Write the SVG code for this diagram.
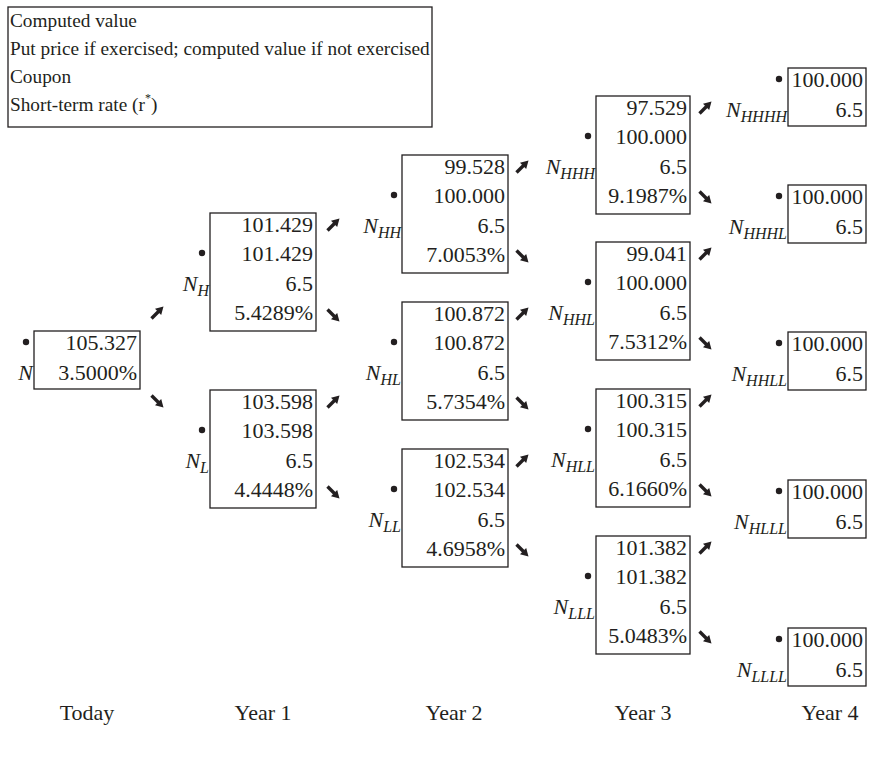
<svg xmlns="http://www.w3.org/2000/svg" xmlns:xlink="http://www.w3.org/1999/xlink" width="871" height="758" viewBox="0 0 871 758">
<style>
.bx{fill:none;stroke:#231f20;stroke-width:1.3}
text{font-family:"Liberation Serif","Times New Roman",serif;fill:#231f20}
.v{font-size:22px;text-anchor:end}
.lg{font-size:19.3px}
.lb{font-size:22px;font-style:italic;text-anchor:end}
.sub{font-size:16px}
.yr{font-size:22px;text-anchor:middle}
.dt{fill:#231f20}
.sh{stroke:#231f20;stroke-width:3.4;fill:none}
.hd{fill:#231f20}
</style>
<defs>
<g id="ne"><path class="sh" d="M-5.5,5.5 L1.5,-1.5"/><polygon class="hd" points="6.5,-6.5 4.2,2 -2,-4.2"/></g>
<g id="se"><use xlink:href="#ne" transform="scale(1,-1)"/></g>
</defs>
<rect width="871" height="758" fill="#fff"/>

<g id="legend">
<rect class="bx" x="8" y="7" width="424" height="120"/>
<text class="lg" x="10" y="27">Computed value</text>
<text class="lg" x="10" y="55">Put price if exercised; computed value if not exercised</text>
<text class="lg" x="10" y="83">Coupon</text>
<text class="lg" x="10" y="111">Short-term rate (r<tspan font-size="12" dy="-9">*</tspan><tspan dy="9">)</tspan></text>
</g>

<g id="node-N">
<rect class="bx" x="34" y="331" width="106" height="58"/>
<circle class="dt" cx="26" cy="342" r="3.2"/>
<text class="v" x="137" y="350">105.327</text>
<text class="v" x="137" y="380">3.5000%</text>
<text class="lb" x="33" y="380">N</text>
</g>

<g id="node-NH">
<rect class="bx" x="210" y="213" width="106" height="118"/>
<circle class="dt" cx="202" cy="253" r="3.2"/>
<text class="v" x="313" y="232">101.429</text>
<text class="v" x="313" y="261">101.429</text>
<text class="v" x="313" y="291">6.5</text>
<text class="v" x="313" y="320">5.4289%</text>
<text class="lb" x="209" y="291">N<tspan class="sub" dy="5">H</tspan></text>
</g>

<g id="node-NL">
<rect class="bx" x="210" y="390" width="106" height="118"/>
<circle class="dt" cx="202" cy="430" r="3.2"/>
<text class="v" x="313" y="409">103.598</text>
<text class="v" x="313" y="438">103.598</text>
<text class="v" x="313" y="468">6.5</text>
<text class="v" x="313" y="497">4.4448%</text>
<text class="lb" x="209" y="468">N<tspan class="sub" dy="5">L</tspan></text>
</g>

<g id="node-NHH">
<rect class="bx" x="402" y="155" width="106" height="118"/>
<circle class="dt" cx="394" cy="195" r="3.2"/>
<text class="v" x="505" y="174">99.528</text>
<text class="v" x="505" y="203">100.000</text>
<text class="v" x="505" y="233">6.5</text>
<text class="v" x="505" y="262">7.0053%</text>
<text class="lb" x="401" y="233">N<tspan class="sub" dy="5">HH</tspan></text>
</g>

<g id="node-NHL">
<rect class="bx" x="402" y="302" width="106" height="118"/>
<circle class="dt" cx="394" cy="342" r="3.2"/>
<text class="v" x="505" y="321">100.872</text>
<text class="v" x="505" y="350">100.872</text>
<text class="v" x="505" y="380">6.5</text>
<text class="v" x="505" y="409">5.7354%</text>
<text class="lb" x="401" y="380">N<tspan class="sub" dy="5">HL</tspan></text>
</g>

<g id="node-NLL">
<rect class="bx" x="402" y="449" width="106" height="118"/>
<circle class="dt" cx="394" cy="489" r="3.2"/>
<text class="v" x="505" y="468">102.534</text>
<text class="v" x="505" y="497">102.534</text>
<text class="v" x="505" y="527">6.5</text>
<text class="v" x="505" y="556">4.6958%</text>
<text class="lb" x="401" y="527">N<tspan class="sub" dy="5">LL</tspan></text>
</g>

<g id="node-NHHH">
<rect class="bx" x="596" y="96" width="94" height="118"/>
<circle class="dt" cx="588" cy="136" r="3.2"/>
<text class="v" x="687" y="115">97.529</text>
<text class="v" x="687" y="144">100.000</text>
<text class="v" x="687" y="174">6.5</text>
<text class="v" x="687" y="203">9.1987%</text>
<text class="lb" x="595" y="174">N<tspan class="sub" dy="5">HHH</tspan></text>
</g>

<g id="node-NHHL">
<rect class="bx" x="596" y="242" width="94" height="118"/>
<circle class="dt" cx="588" cy="282" r="3.2"/>
<text class="v" x="687" y="261">99.041</text>
<text class="v" x="687" y="290">100.000</text>
<text class="v" x="687" y="320">6.5</text>
<text class="v" x="687" y="349">7.5312%</text>
<text class="lb" x="595" y="320">N<tspan class="sub" dy="5">HHL</tspan></text>
</g>

<g id="node-NHLL">
<rect class="bx" x="596" y="389" width="94" height="118"/>
<circle class="dt" cx="588" cy="429" r="3.2"/>
<text class="v" x="687" y="408">100.315</text>
<text class="v" x="687" y="437">100.315</text>
<text class="v" x="687" y="467">6.5</text>
<text class="v" x="687" y="496">6.1660%</text>
<text class="lb" x="595" y="467">N<tspan class="sub" dy="5">HLL</tspan></text>
</g>

<g id="node-NLLL">
<rect class="bx" x="596" y="536" width="94" height="118"/>
<circle class="dt" cx="588" cy="576" r="3.2"/>
<text class="v" x="687" y="555">101.382</text>
<text class="v" x="687" y="584">101.382</text>
<text class="v" x="687" y="614">6.5</text>
<text class="v" x="687" y="643">5.0483%</text>
<text class="lb" x="595" y="614">N<tspan class="sub" dy="5">LLL</tspan></text>
</g>

<g id="node-NHHHH">
<rect class="bx" x="788" y="68" width="78" height="58"/>
<circle class="dt" cx="779" cy="79" r="3.2"/>
<text class="v" x="863" y="87">100.000</text>
<text class="v" x="863" y="117">6.5</text>
<text class="lb" x="787" y="117">N<tspan class="sub" dy="5">HHHH</tspan></text>
</g>

<g id="node-NHHHL">
<rect class="bx" x="788" y="185" width="78" height="58"/>
<circle class="dt" cx="779" cy="196" r="3.2"/>
<text class="v" x="863" y="204">100.000</text>
<text class="v" x="863" y="234">6.5</text>
<text class="lb" x="787" y="234">N<tspan class="sub" dy="5">HHHL</tspan></text>
</g>

<g id="node-NHHLL">
<rect class="bx" x="788" y="332" width="78" height="58"/>
<circle class="dt" cx="779" cy="343" r="3.2"/>
<text class="v" x="863" y="351">100.000</text>
<text class="v" x="863" y="381">6.5</text>
<text class="lb" x="787" y="381">N<tspan class="sub" dy="5">HHLL</tspan></text>
</g>

<g id="node-NHLLL">
<rect class="bx" x="788" y="480" width="78" height="58"/>
<circle class="dt" cx="779" cy="491" r="3.2"/>
<text class="v" x="863" y="499">100.000</text>
<text class="v" x="863" y="529">6.5</text>
<text class="lb" x="787" y="529">N<tspan class="sub" dy="5">HLLL</tspan></text>
</g>

<g id="node-NLLLL">
<rect class="bx" x="788" y="628" width="78" height="58"/>
<circle class="dt" cx="779" cy="639" r="3.2"/>
<text class="v" x="863" y="647">100.000</text>
<text class="v" x="863" y="677">6.5</text>
<text class="lb" x="787" y="677">N<tspan class="sub" dy="5">LLLL</tspan></text>
</g>

<g id="connectors">
<use xlink:href="#ne" x="157" y="313"/>
<use xlink:href="#se" x="157" y="401"/>
<use xlink:href="#ne" x="333" y="225"/>
<use xlink:href="#se" x="333" y="315"/>
<use xlink:href="#ne" x="333" y="402"/>
<use xlink:href="#se" x="333" y="492"/>
<use xlink:href="#ne" x="522" y="167"/>
<use xlink:href="#se" x="522" y="256"/>
<use xlink:href="#ne" x="522" y="314"/>
<use xlink:href="#se" x="522" y="403"/>
<use xlink:href="#ne" x="522" y="461"/>
<use xlink:href="#se" x="522" y="550"/>
<use xlink:href="#ne" x="705" y="108"/>
<use xlink:href="#se" x="705" y="197"/>
<use xlink:href="#ne" x="705" y="254"/>
<use xlink:href="#se" x="705" y="343"/>
<use xlink:href="#ne" x="705" y="401"/>
<use xlink:href="#se" x="705" y="490"/>
<use xlink:href="#ne" x="705" y="548"/>
<use xlink:href="#se" x="705" y="637"/>
</g>

<g id="axis">
<text class="yr" x="87" y="720">Today</text>
<text class="yr" x="263" y="720">Year 1</text>
<text class="yr" x="454" y="720">Year 2</text>
<text class="yr" x="643" y="720">Year 3</text>
<text class="yr" x="830" y="720">Year 4</text>
</g>
</svg>
